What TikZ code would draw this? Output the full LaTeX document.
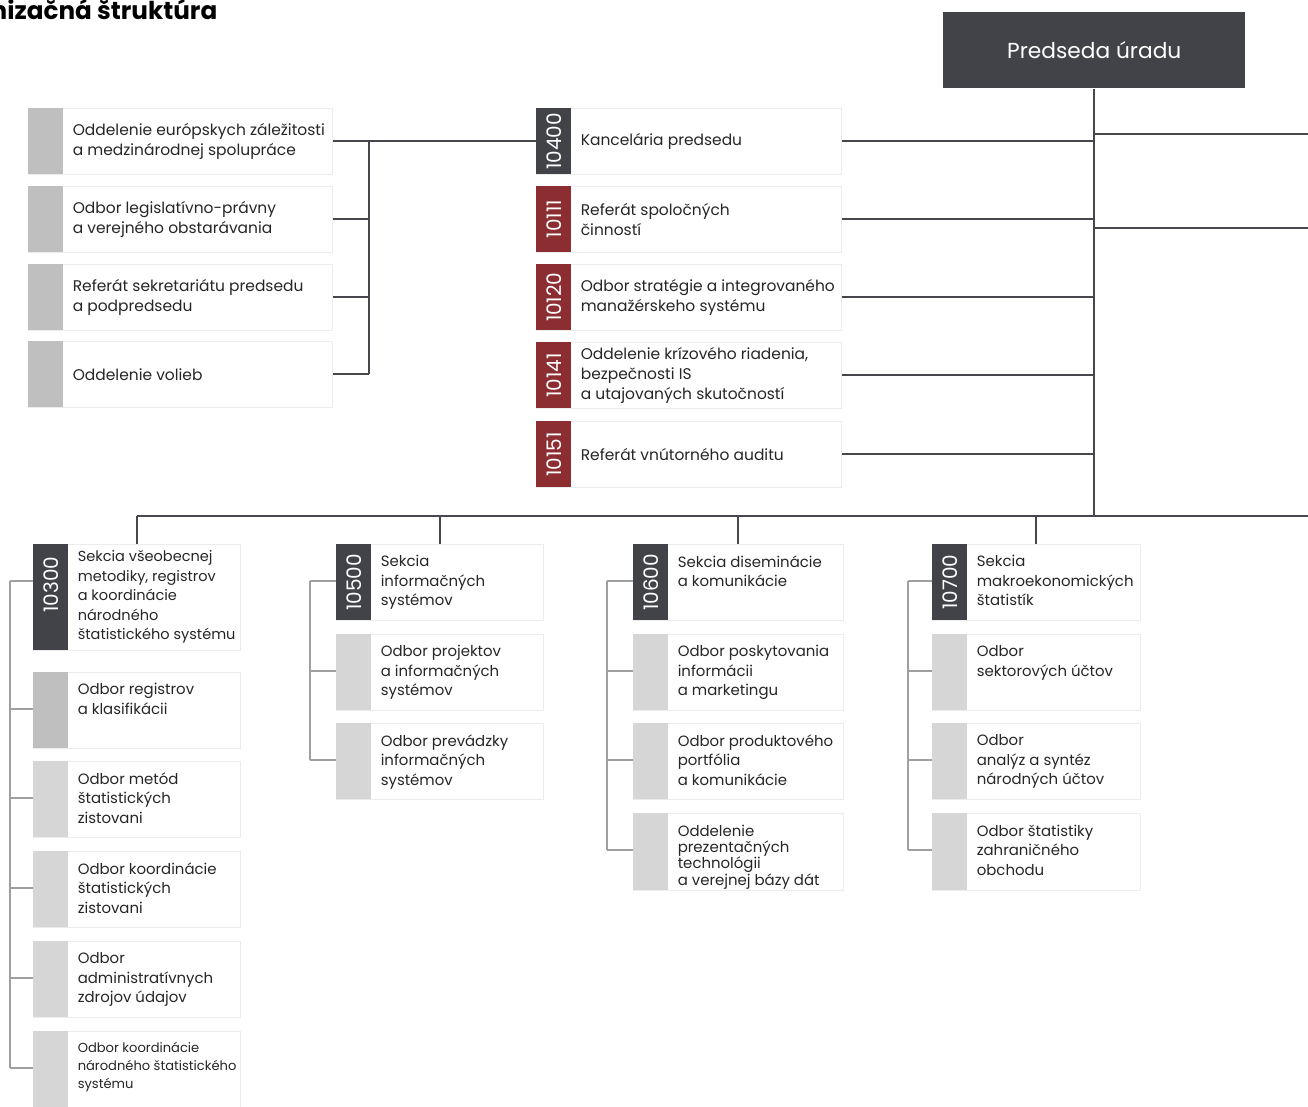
\documentclass[tikz,border=0pt]{standalone}
\usepackage{fontspec}
\setmainfont{Poppins}
\definecolor{darkc}{HTML}{414349}
\definecolor{redc}{HTML}{8B2D31}
\definecolor{linec}{HTML}{45474C}
\newcommand{\pxu}{0.75pt}
\newcommand{\codefont}{\fontsize{15}{16}\selectfont}
% one unit: box, code strip, text
\newcommand{\orgunit}[9][midtxt]{%
  \node[ubox, minimum width=#5*\pxu, minimum height=#6*\pxu] (#2) at (#3,#4) {};
  \node[#7, minimum height=#6*\pxu] (#2c) at (#2.north west) {\rotatebox{90}{#8}};
  \node[utext, #1] (#2t) at ([xshift=9*\pxu]#2c.east) {#9};
  \coordinate (#2k) at ([yshift=-37*\pxu]#2.north west);
}
\begin{document}
\begin{tikzpicture}[x=0.75pt,y=-0.75pt]
  \tikzset{ ubox/.style={draw=gray!15, line width=0.6pt, fill=white, anchor=north west, inner sep=0pt},
    dk/.style={fill=darkc, text=white, anchor=north west, minimum width=35*\pxu, inner sep=0pt, font=\codefont},
    rd/.style={dk, fill=redc},
    gr/.style={dk, fill=gray!50},
    lg/.style={dk, fill=gray!32},
    utext/.style={align=left, inner sep=0pt, font=\fontsize{11.6}{14.9}\selectfont, text=black!85},
    midtxt/.style={anchor=west},
    toptxt/.style={anchor=north west, yshift=27*\pxu, font=\fontsize{11.2}{14.6}\selectfont},
    conn/.style={draw=linec, line width=1.5pt},
    tick/.style={draw=gray!75, line width=0.9pt},
  }
  \useasboundingbox (0,0) rectangle (1308,1106);

  \node[anchor=base east, font=\bfseries\fontsize{18.5}{20}\selectfont] (title) at (222,20) {nizačná štruktúra};
  \node[fill=darkc, text=white, anchor=north west, minimum width=302*\pxu, minimum height=76*\pxu,
    font=\fontsize{16.3}{18}\selectfont] (pred) at (943,12) {Predseda úradu};

  % left group
  \orgunit{l1}{28}{108}{304}{66}{gr}{}{Oddelenie európskych záležitosti\\a medzinárodnej spolupráce}
  \orgunit{l2}{28}{186}{304}{66}{gr}{}{Odbor legislatívno-právny\\a verejného obstarávania}
  \orgunit{l3}{28}{264}{304}{66}{gr}{}{Referát sekretariátu predsedu\\a podpredsedu}
  \orgunit{l4}{28}{341}{304}{66}{gr}{}{Oddelenie volieb}

  % middle group
  \orgunit{m10400}{536}{108}{305}{66}{dk}{10400}{Kancelária predsedu}
  \orgunit{m10111}{536}{186}{305}{66}{rd}{10111}{Referát spoločných\\činností}
  \orgunit{m10120}{536}{264}{305}{66}{rd}{10120}{Odbor stratégie a integrovaného\\manažérskeho systému}
  \orgunit{m10141}{536}{342}{305}{66}{rd}{10141}{Oddelenie krízového riadenia,\\bezpečnosti IS\\a utajovaných skutočností}
  \orgunit{m10151}{536}{421}{305}{66}{rd}{10151}{Referát vnútorného auditu}

  % sections
  \orgunit[midtxt, font=\fontsize{10.9}{14.6}\selectfont]{s10300}{33}{544}{207}{106}{dk}{\hspace{19pt}10300}{Sekcia všeobecnej\\metodiky, registrov\\a koordinácie\\národného\\štatistického systému}
  \orgunit[toptxt]{c1b}{33}{672}{207}{76}{gr}{}{Odbor registrov\\a klasifikácii}
  \orgunit[toptxt]{c1c}{33}{761}{207}{76}{lg}{}{Odbor metód\\štatistických\\zistovani}
  \orgunit[toptxt]{c1d}{33}{851}{207}{76}{lg}{}{Odbor koordinácie\\štatistických\\zistovani}
  \orgunit[toptxt]{c1e}{33}{941}{207}{76}{lg}{}{Odbor\\administratívnych\\zdrojov údajov}
  \orgunit[toptxt, font=\fontsize{9.8}{13.5}\selectfont]{c1f}{33}{1031}{207}{76}{lg}{}{Odbor koordinácie\\národného štatistického\\systému}

  \orgunit[toptxt]{s10500}{336}{544}{207}{76}{dk}{10500}{Sekcia\\informačných\\systémov}
  \orgunit[toptxt]{c2b}{336}{634}{207}{76}{lg}{}{Odbor projektov\\a informačných\\systémov}
  \orgunit[toptxt]{c2c}{336}{723}{207}{76}{lg}{}{Odbor prevádzky\\informačných\\systémov}

  \orgunit[toptxt]{s10600}{633}{544}{210}{76}{dk}{10600}{Sekcia diseminácie\\a komunikácie}
  \orgunit[toptxt]{c3b}{633}{634}{210}{76}{lg}{}{Odbor poskytovania\\informácii\\a marketingu}
  \orgunit[toptxt]{c3c}{633}{723}{210}{76}{lg}{}{Odbor produktového\\portfólia\\a komunikácie}
  \orgunit[toptxt, font=\fontsize{11.2}{12.2}\selectfont]{c3d}{633}{813}{210}{77}{lg}{}{Oddelenie\\prezentačných\\technológii\\a verejnej bázy dát}

  \orgunit[toptxt]{s10700}{932}{544}{208}{76}{dk}{10700}{Sekcia\\makroekonomických\\štatistík}
  \orgunit[toptxt]{c4b}{932}{634}{208}{76}{lg}{}{Odbor\\sektorových účtov}
  \orgunit[toptxt]{c4c}{932}{723}{208}{76}{lg}{}{Odbor\\analýz a syntéz\\národných účtov}
  \orgunit[toptxt]{c4d}{932}{813}{208}{77}{lg}{}{Odbor štatistiky\\zahraničného\\obchodu}

  \coordinate (rA) at (1308,134);
  \coordinate (rB) at (1308,228);
  \coordinate (busR) at (1308,516);
  \coordinate (lb) at (369,0);
  \coordinate (b1) at (10,0);
  \coordinate (b2) at (310,0);
  \coordinate (b3) at (607,0);
  \coordinate (b4) at (908,0);

  % trunk and bus
  \draw[conn] (pred.south) -- (pred.south |- busR);
  \draw[conn] (pred.south |- rA) -- (rA);
  \draw[conn] (pred.south |- rB) -- (rB);
  \draw[conn] (s10300.north |- busR) -- (busR);
  \foreach \n in {m10400,m10111,m10120,m10141,m10151}
    \draw[conn] (\n.east) -- (\n.east -| pred.south);
  \foreach \n in {s10300,s10500,s10600,s10700}
    \draw[conn] (\n.north |- busR) -- (\n.north);

  % left bracket
  \foreach \n in {l1,l2,l3,l4}
    \draw[conn] (\n.east) -- (\n.east -| lb);
  \draw[conn] (l1.east -| lb) -- (l4.east -| lb);
  \draw[conn] (l1.east -| lb) -- (m10400.west);

  % section brackets
  \foreach \n in {s10300,c1b,c1c,c1d,c1e,c1f}
    \draw[tick] (\n k) -- (\n k -| b1);
  \draw[tick] (s10300k -| b1) -- (c1fk -| b1);
  \foreach \n in {s10500,c2b,c2c}
    \draw[tick] (\n k) -- (\n k -| b2);
  \draw[tick] (s10500k -| b2) -- (c2ck -| b2);
  \foreach \n in {s10600,c3b,c3c,c3d}
    \draw[tick] (\n k) -- (\n k -| b3);
  \draw[tick] (s10600k -| b3) -- (c3dk -| b3);
  \foreach \n in {s10700,c4b,c4c,c4d}
    \draw[tick] (\n k) -- (\n k -| b4);
  \draw[tick] (s10700k -| b4) -- (c4dk -| b4);
\end{tikzpicture}
\end{document}
